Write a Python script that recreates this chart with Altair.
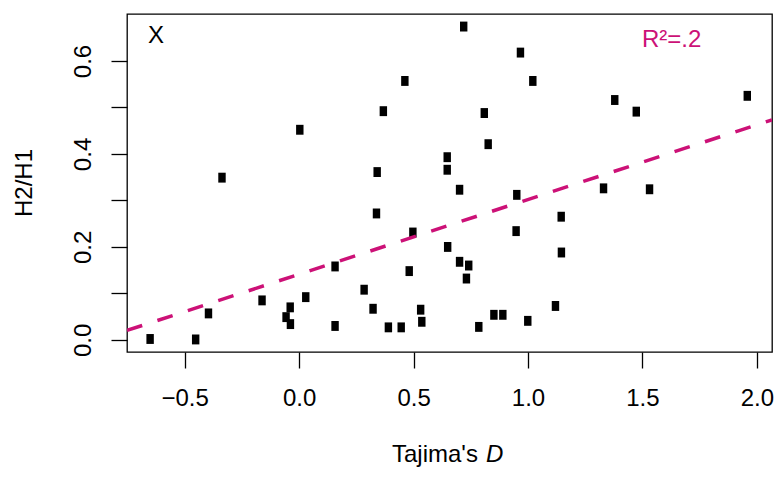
import altair as alt
import pandas as pd

# Tajima's D and H2/H1 for each locus
tajima_d = [
    -0.651, -0.452, -0.337, -0.396, -0.162, -0.057, -0.039, -0.038, 0.003, 0.029,
    0.157, 0.157, 0.284, 0.323, 0.338, 0.341, 0.368, 0.390, 0.446, 0.462,
    0.481, 0.497, 0.531, 0.536, 0.647, 0.647, 0.649, 0.701, 0.701, 0.719,
    0.731, 0.741, 0.785, 0.809, 0.826, 0.851, 0.890, 0.951, 0.948, 0.967,
    0.999, 1.021, 1.120, 1.145, 1.146, 1.330, 1.379, 1.473, 1.531, 1.958,
]
h2_h1 = [
    0.002, 0.001, 0.349, 0.057, 0.085, 0.049, 0.070, 0.034, 0.452, 0.092,
    0.030, 0.158, 0.108, 0.067, 0.272, 0.361, 0.492, 0.027, 0.027, 0.557,
    0.148, 0.231, 0.065, 0.039, 0.393, 0.366, 0.200, 0.323, 0.168, 0.674,
    0.132, 0.160, 0.028, 0.488, 0.421, 0.054, 0.054, 0.312, 0.234, 0.618,
    0.041, 0.557, 0.073, 0.265, 0.188, 0.326, 0.516, 0.491, 0.324, 0.525,
]

x_ticks = [-0.5, 0.0, 0.5, 1.0, 1.5, 2.0]
y_ticks = [0.0, 0.1, 0.2, 0.3, 0.4, 0.5, 0.6]
x_domain = [-0.752, 2.066]
y_domain = [-0.026, 0.701]

FONT = "Liberation Sans"
MAGENTA = "#CC1177"
W, H = 645, 338

df = pd.DataFrame({"D": tajima_d, "H": h2_h1})
base = alt.Chart(df)

x_enc = alt.X(
    "D:Q",
    scale=alt.Scale(domain=x_domain, nice=False, zero=False),
    axis=alt.Axis(
        values=x_ticks, format=".1f", title=None, grid=False, domain=False,
        tickSize=16, tickWidth=1.3, tickColor="black",
        labelFont=FONT, labelFontSize=24, labelColor="black",
        labelBaseline="alphabetic", labelPadding=37,
        labelFlush=False, labelOverlap=False, labelBound=False,
    ),
)
y_enc = alt.Y(
    "H:Q",
    scale=alt.Scale(domain=y_domain, nice=False, zero=False),
    axis=alt.Axis(
        values=y_ticks, title=None, grid=False, domain=False,
        labelExpr="round(datum.value * 10) % 2 === 0 ? format(datum.value, '.1f') : ''",
        tickSize=16, tickWidth=1.3, tickColor="black",
        labelFont=FONT, labelFontSize=24, labelColor="black",
        labelAngle=270, labelAlign="center", labelBaseline="alphabetic",
        labelPadding=21, labelFlush=False, labelOverlap=False, labelBound=False,
    ),
)

# filled rectangular markers
points = base.mark_point(
    shape="M-0.75,-1H0.75V1H-0.75Z", filled=True, size=98,
    color="black", opacity=1, strokeWidth=0,
).encode(x=x_enc, y=y_enc)

# least-squares fit drawn across the full x range
fit = base.transform_regression(
    "D", "H", extent=x_domain
).mark_line(
    color=MAGENTA, strokeDash=[16, 16], strokeWidth=3.5, clip=True
).encode(x="D:Q", y="H:Q")


def label(text, x, y, **kw):
    return alt.Chart(pd.DataFrame({"t": [text]})).mark_text(
        font=FONT, fontSize=24, baseline="alphabetic", **kw
    ).encode(text="t:N", x=alt.value(x), y=alt.value(y))


panel = label("X", 29, 29, align="center", color="black")
r2 = label("R²=.2", 515, 33, align="left", color=MAGENTA)
xt1 = label("Tajima's", 265, 448, align="left", color="black")
xt2 = label("D", 359, 448, align="left", color="black", fontStyle="italic")
yt = label("H2/H1", -95, H / 2, align="center", color="black", angle=270)

chart = alt.layer(points, fit, panel, r2, xt1, xt2, yt).properties(
    width=W, height=H,
    autosize=alt.AutoSizeParams(type="none"),
    padding={"left": 127, "top": 14, "right": 3, "bottom": 125},
    background="white",
).configure_view(stroke="black", strokeWidth=1.3)

chart.save("out.html", embed_options={"renderer": "svg", "actions": False})
